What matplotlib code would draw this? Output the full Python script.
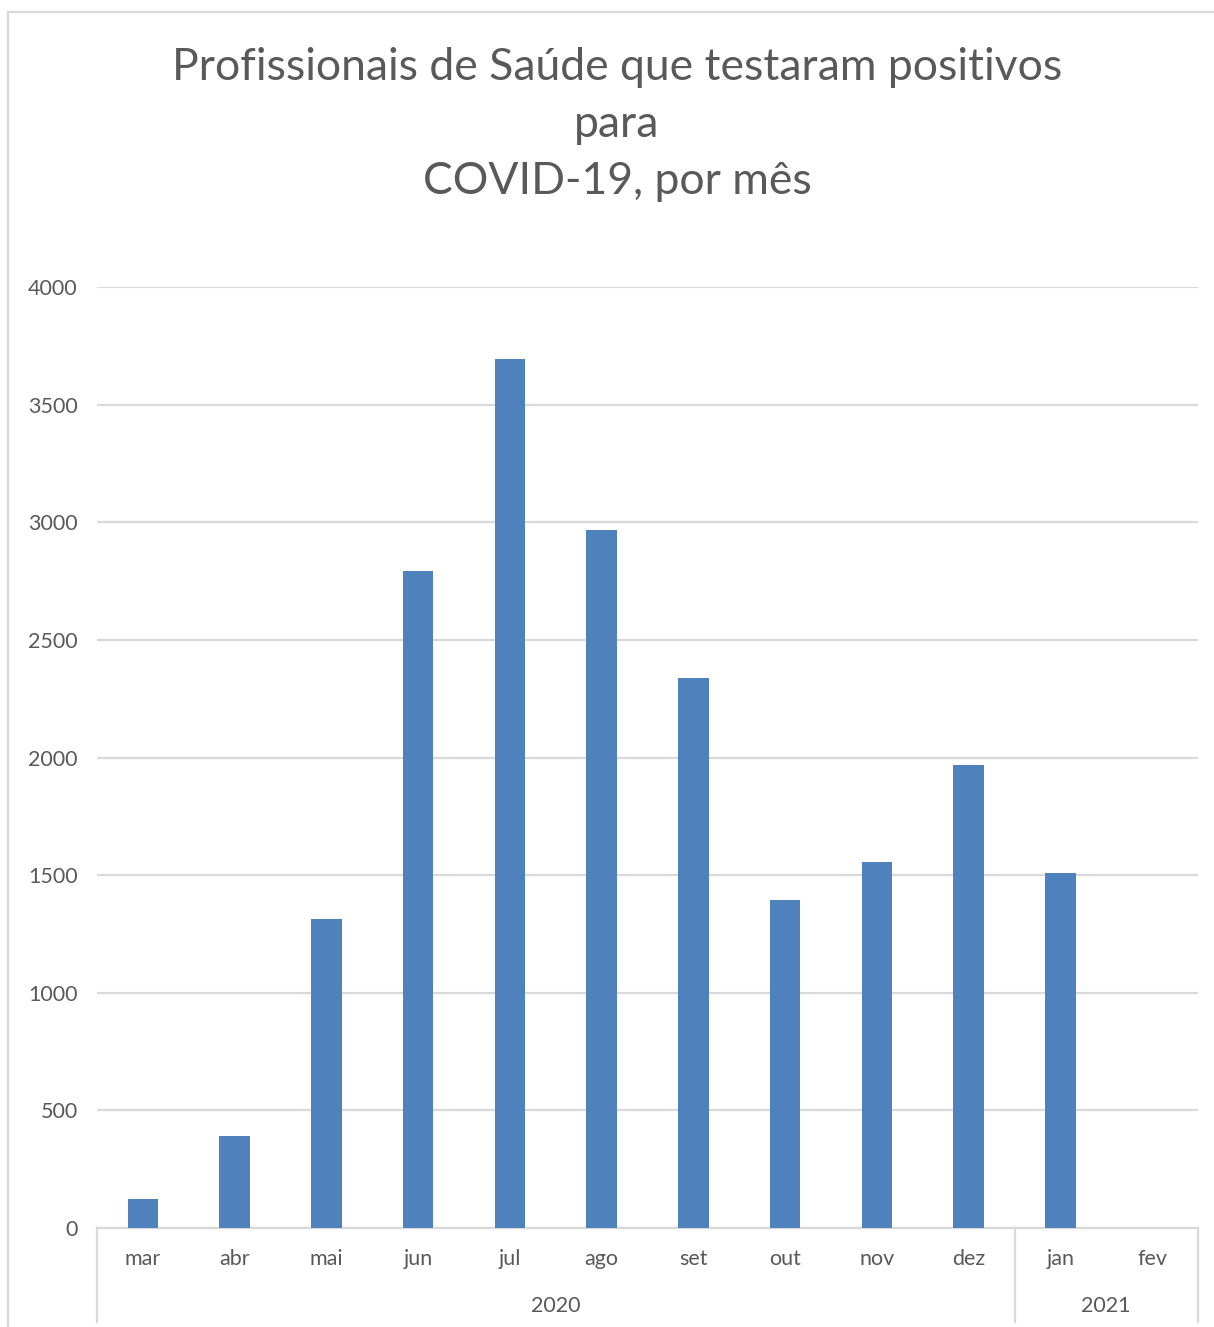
import matplotlib
matplotlib.use("Agg")
import matplotlib.pyplot as plt
from matplotlib.patches import Rectangle
from matplotlib.transforms import blended_transform_factory

# dados
meses = ["mar", "abr", "mai", "jun", "jul", "ago", "set", "out", "nov", "dez", "jan", "fev"]
positivos = [123, 391, 1313, 2792, 3693, 2966, 2337, 1394, 1555, 1968, 1509, 0]
anos = ["2020", "2021"]
meses_por_ano = [10, 2]
yticks = [0, 500, 1000, 1500, 2000, 2500, 3000, 3500, 4000]

W, H = 1214, 1327
plt.rcParams["font.family"] = ["Lato", "DejaVu Sans"]
txt = "#595959"
grade = "#D9D9D9"

fig = plt.figure(figsize=(W / 100, H / 100), dpi=100)
ax = fig.add_axes([97 / W, 1 - 1228 / H, (1198 - 97) / W, (1228 - 287) / H])

x = list(range(len(meses)))
ax.bar(x, positivos, width=0.33, color="#4F81BD", zorder=3)

ax.set_xlim(-0.5, len(meses) - 0.5)
ax.set_ylim(0, 4000)
ax.set_yticks(yticks)
ax.set_yticklabels([str(v) for v in yticks], fontsize=15.5, color=txt)
ax.tick_params(axis="y", length=0, pad=14)
ax.set_xticks([])
ax.yaxis.grid(True, color=grade, linewidth=1.6, zorder=0)
for s in ["top", "right", "left"]:
    ax.spines[s].set_visible(False)
ax.spines["bottom"].set_color(grade)
ax.spines["bottom"].set_linewidth(1.6)

# eixo de categorias em dois níveis (mês / ano)
tr = blended_transform_factory(ax.transData, ax.transAxes)
lab_y = -31 / 941
ano_y = -78 / 941
fim_y = -94 / 941
for i, m in enumerate(meses):
    ax.text(i, lab_y, m, transform=tr, ha="center", va="center", fontsize=15.5, color=txt)

inicio = -0.5
ax.plot([inicio, inicio], [0, fim_y], transform=tr, color=grade, lw=1.6, clip_on=False)
for ano, n in zip(anos, meses_por_ano):
    fim = inicio + n
    ax.text((inicio + fim) / 2, ano_y, ano, transform=tr, ha="center", va="center",
            fontsize=15.5, color=txt)
    ax.plot([fim, fim], [0, fim_y], transform=tr, color=grade, lw=1.6, clip_on=False)
    inicio = fim

fig.text(617 / W, 1 - 124.5 / H,
         "Profissionais de Saúde que testaram positivos\npara\nCOVID-19, por mês",
         ha="center", va="center", fontsize=32, color=txt, linespacing=1.5)

fig.add_artist(Rectangle((8 / W, -0.01), 1.0, 1 - 12 / H + 0.01, transform=fig.transFigure,
                         fill=False, edgecolor=grade, linewidth=1.6))

fig.savefig("out.png", dpi=100, facecolor="white")
